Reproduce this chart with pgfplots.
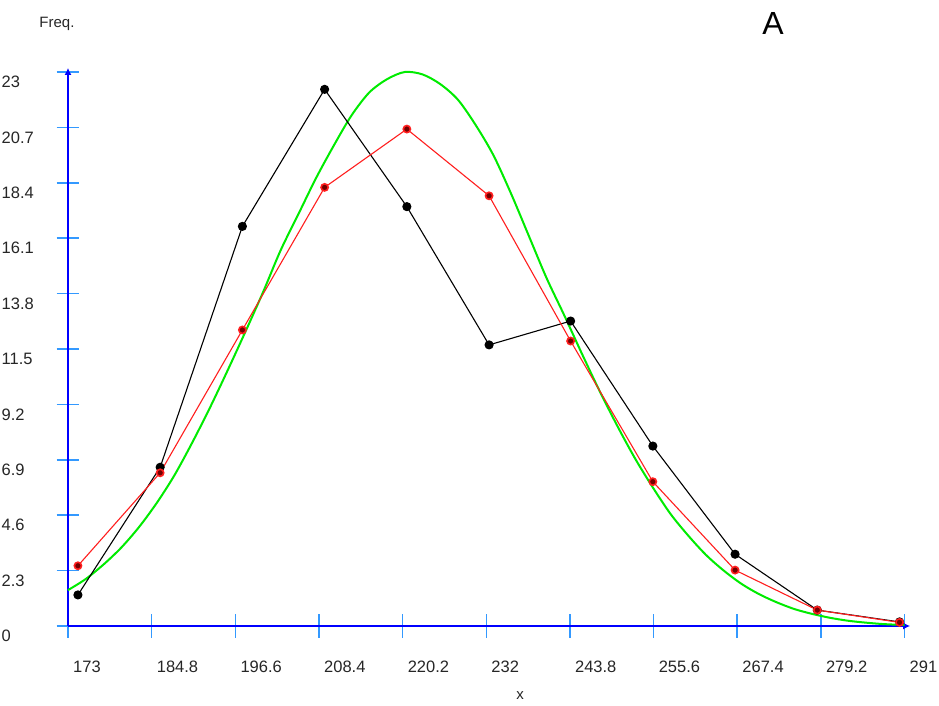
\documentclass[border=0pt]{standalone}
\usepackage{fontspec}
\setmainfont{Liberation Sans}
\usepackage{pgfplots}
\pgfplotsset{compat=1.18}
\usetikzlibrary{arrows.meta}
\definecolor{axblue}{RGB}{0,0,255}
\definecolor{tickblue}{RGB}{51,153,255}
\definecolor{fitgreen}{RGB}{0,235,0}
\definecolor{obsred}{RGB}{255,30,30}

\begin{document}
\begin{tikzpicture}
\useasboundingbox (0,0) rectangle (939pt,706pt);
\begin{axis}[
    at={(68pt,80pt)}, anchor=south west,
    x=7.089pt, y=24.087pt,
    xmin=173, xmax=291.8, ymin=0, ymax=23.17,
    axis lines*=left,
    axis line style={axblue, line width=1.8pt, -{Latex[length=7pt,width=7pt]}},
    tick style={tickblue, line width=1.5pt},
    major tick length=23pt, tick align=center,
    xtick={173,184.8,196.6,208.4,220.2,232,243.8,255.6,267.4,279.2,291},
    xticklabels={173,184.8,196.6,208.4,220.2,232,243.8,255.6,267.4,279.2,291},
    ytick={0,2.3,4.6,6.9,9.2,11.5,13.8,16.1,18.4,20.7,23},
    yticklabels={0,2.3,4.6,6.9,9.2,11.5,13.8,16.1,18.4,20.7,23},
    xticklabel style={anchor=base west, inner sep=0pt, xshift=5pt, yshift=-35pt,
        font=\fontsize{16.5}{18}\selectfont, text=black!85},
    yticklabel style={anchor=west, inner sep=0pt, xshift=-55pt, yshift=-10pt,
        font=\fontsize{16.5}{18}\selectfont, text=black!85},
    clip=false,
]
% fitted normal curve
\addplot[fitgreen, line width=2pt, smooth] coordinates {
    (173.0,1.49)(175.5,1.95)(178.0,2.55)(180.5,3.25)(183.0,4.10)(185.5,5.10)
    (188.0,6.25)(190.5,7.60)(193.0,9.05)(195.5,10.60)(198.0,12.20)(200.5,13.85)
    (203.0,15.60)(205.5,17.10)(208.0,18.60)(210.5,19.95)(213.0,21.20)(215.5,22.15)
    (218.0,22.70)(220.5,23.00)(223.0,22.90)(225.5,22.50)(228.0,21.85)(230.5,20.80)
    (233.0,19.55)(235.5,17.95)(238.0,16.20)(240.5,14.45)(243.0,12.90)(245.5,11.30)
    (248.0,9.75)(250.5,8.30)(253.0,6.95)(255.5,5.75)(258.0,4.65)(260.5,3.75)
    (263.0,2.95)(265.5,2.30)(268.0,1.75)(270.5,1.32)(273.0,0.98)(275.5,0.70)
    (278.0,0.50)(280.5,0.34)(283.0,0.22)(285.5,0.14)(288.0,0.08)(291.0,0.04)
};
% observed frequencies
\addplot[black, line width=1.1pt, mark=*, mark size=4pt] coordinates {
    (174.4,1.29)(186.0,6.59)(197.6,16.59)(209.2,22.28)(220.8,17.41)
    (232.4,11.67)(243.9,12.66)(255.5,7.47)(267.1,2.98)(278.7,0.66)(290.3,0.17)
};
% expected frequencies
\addplot[obsred, line width=1.1pt, mark=*, mark size=3.6pt,
    mark options={draw=obsred, fill=red!45!black, line width=1.6pt}] coordinates {
    (174.4,2.50)(186.0,6.36)(197.6,12.29)(209.2,18.21)(220.8,20.63)
    (232.4,17.86)(243.9,11.83)(255.5,5.99)(267.1,2.32)(278.7,0.66)(290.3,0.15)
};
\end{axis}
\node[font=\fontsize{15}{17}\selectfont, text=black!85] at (57pt,682pt) {Freq.};
\node[font=\fontsize{32}{36}\selectfont] at (773pt,682pt) {A};
\node[font=\fontsize{15}{17}\selectfont, text=black!85] at (520pt,10pt) {x};
\end{tikzpicture}
\end{document}
